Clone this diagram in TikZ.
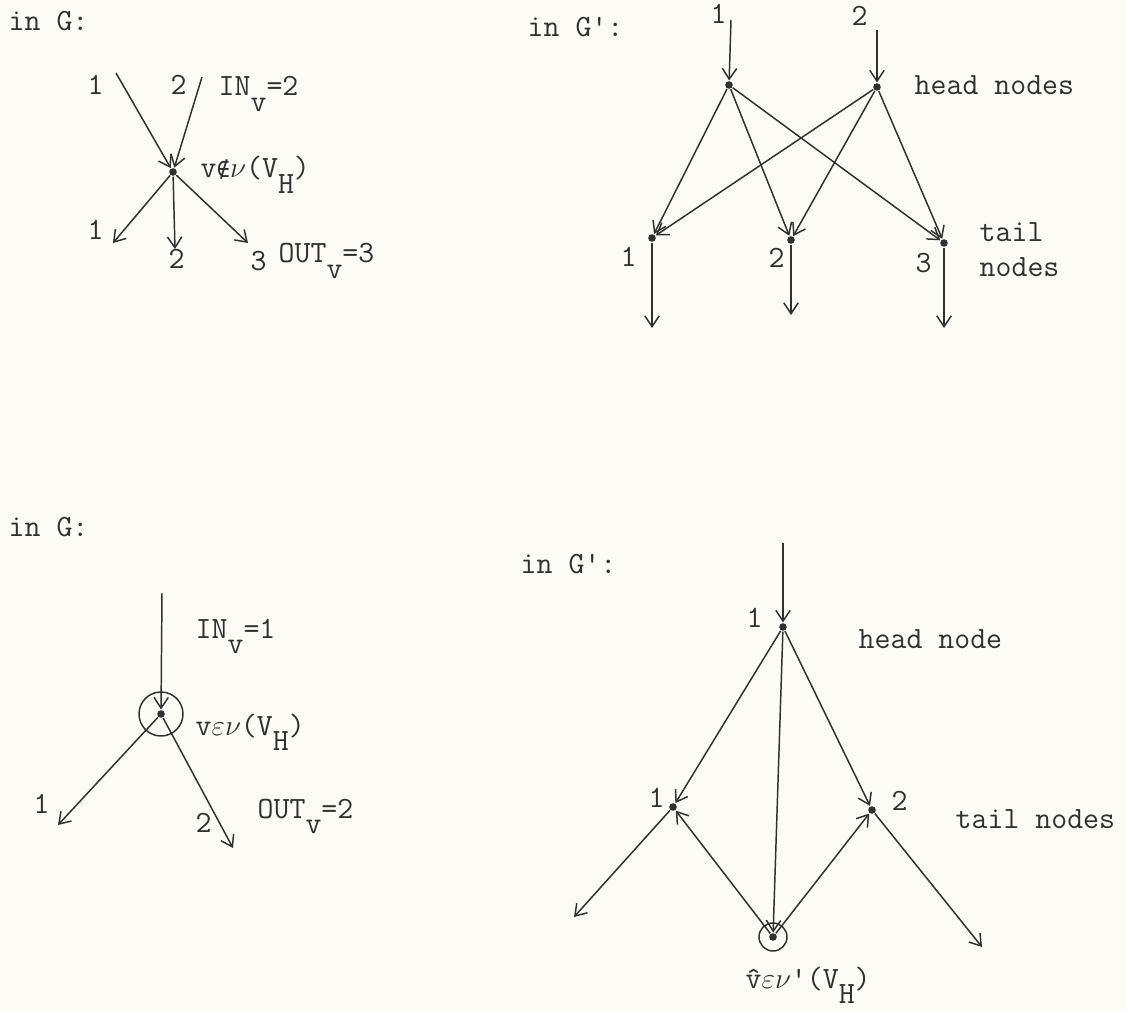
\documentclass[tikz,border=0pt]{standalone}
\usepackage{fontspec}
\usepackage{tikz}
\usetikzlibrary{
  arrows.meta,
  positioning
}
\newfontfamily\simbolo{DejaVu Sans Mono}
\definecolor{papel}{RGB}{252,251,246}
\definecolor{tinta}{RGB}{50,48,46}
\newcommand{\baixo}[1]{\raisebox{-0.5em}{#1}}

\begin{document}
\begin{tikzpicture}[
    x=0.025cm,
    y=-0.025cm,
    color=tinta,
    line width=1.05pt,
    >={Straight Barb[length=2.7mm,width=3.6mm]},
    ponto/.style={circle,fill,inner sep=0pt,minimum size=1.9mm},
    rotulo/.style={font=\ttfamily\fontsize{22}{24}\selectfont,
      inner sep=0pt,anchor=base west}
    ]
    
    % fundo
    \fill[papel] (0,0) rectangle (1126,1011);
    \useasboundingbox (0,0) rectangle (1126,1011);
    
    % em G, v fora de nu(V_H)
    \node[rotulo] (tG) at (8,31) {in G:};
    \node[ponto] (v) at (173,172) {};
    \coordinate (e1) at (116,73);
    \coordinate (e2) at (202,77);
    \coordinate (s1) at (113,243);
    \coordinate (s2) at (175,249);
    \coordinate (s3) at (248,243);
    
    \draw[->] (e1)--(v);
    \draw[->] (e2)--(v);
    \draw[->] (v)--(s1);
    \draw[->] (v)--(s2);
    \draw[->] (v)--(s3);
    
    \node[rotulo] (le1) at (87,95) {1};
    \node[rotulo] (le2) at (170,95) {2};
    \node[rotulo] (inv) at (218,96) {IN\baixo{v}=2};
    \node[rotulo] (nv) at (200,178)
      {v{\simbolo\fontsize{16}{20}\selectfont ∉}$\nu$(V\baixo{H})};
    \node[rotulo] (ls1) at (87,240) {1};
    \node[rotulo] (ls2) at (168,269) {2};
    \node[rotulo] (ls3) at (250,270) {3};
    \node[rotulo] (outv) at (278,263) {OUT\baixo{v}=3};
    
    % em G', cabecas e caudas
    \node[rotulo] (tGl) at (527,37) {in G':};
    \node[ponto] (h1) at (729,85) {};
    \node[ponto] (h2) at (877,87) {};
    \node[ponto] (t1) at (652,238) {};
    \node[ponto] (t2) at (791,240) {};
    \node[ponto] (t3) at (944,243) {};
    \coordinate (a1) at (731,20);
    \coordinate (a2) at (877,30);
    \coordinate (b1) at (652,328);
    \coordinate (b2) at (791,315);
    \coordinate (b3) at (944,328);
    
    \draw[->] (a1)--(h1);
    \draw[->] (a2)--(h2);
    \foreach \h in {h1,h2}{
      \foreach \t in {t1,t2,t3}{
        \draw[->] (\h)--(\t);
      }
    }
    \draw[->] (t1)--(b1);
    \draw[->] (t2)--(b2);
    \draw[->] (t3)--(b3);
    
    \node[rotulo] (la1) at (710,24) {1};
    \node[rotulo] (la2) at (851,26) {2};
    \node[rotulo] (hn) at (914,95) {head nodes};
    \node[rotulo] (lt1) at (620,267) {1};
    \node[rotulo] (lt2) at (768,268) {2};
    \node[rotulo] (lt3) at (915,272) {3};
    \node[rotulo] (tl) at (979,242) {tail};
    \node[rotulo] (nd) at (979,276) {nodes};
    
    % em G, v em nu(V_H)
    \node[rotulo] (tG2) at (8,536) {in G:};
    \node[ponto] (w) at (161,714) {};
    \draw (w) circle[radius=22];
    \coordinate (f1) at (162,593);
    \coordinate (g1) at (58,825);
    \coordinate (g2) at (233,848);
    
    \draw[->] (f1)--(w);
    \draw[->] (w)--(g1);
    \draw[->] (w)--(g2);
    
    \node[rotulo] (inw) at (195,638) {IN\baixo{v}=1};
    \node[rotulo] (nw) at (195,735) {v$\varepsilon\nu$(V\baixo{H})};
    \node[rotulo] (lg1) at (33,813) {1};
    \node[rotulo] (lg2) at (195,832) {2};
    \node[rotulo] (outw) at (257,818) {OUT\baixo{v}=2};
    
    % em G', um so no cabeca
    \node[rotulo] (tGl2) at (520,573) {in G':};
    \node[ponto] (hh) at (783,627) {};
    \node[ponto] (ta) at (673,807) {};
    \node[ponto] (tb) at (872,810) {};
    \node[ponto] (vh) at (773,937) {};
    \draw (vh) circle[radius=14];
    \coordinate (c0) at (783,543);
    \coordinate (da) at (574,917);
    \coordinate (db) at (982,947);
    
    \draw[->] (c0)--(hh);
    \draw[->] (hh)--(ta);
    \draw[->] (hh)--(tb);
    \draw[->] (hh)--(vh);
    \draw[->] (vh)--(ta);
    \draw[->] (vh)--(tb);
    \draw[->] (ta)--(da);
    \draw[->] (tb)--(db);
    
    \node[rotulo] (lh) at (746,627) {1};
    \node[rotulo] (hd) at (858,648) {head node};
    \node[rotulo] (lta) at (648,807) {1};
    \node[rotulo] (ltb) at (891,810) {2};
    \node[rotulo] (tn) at (955,828) {tail nodes};
    \node[rotulo] (nvh) at (745,988) {\^{v}$\varepsilon\nu$'(V\baixo{H})};
    
    \end{tikzpicture}
\end{document}
